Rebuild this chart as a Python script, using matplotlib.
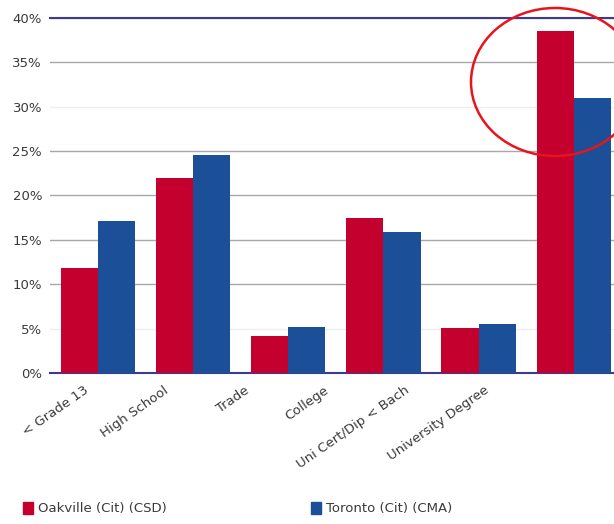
import matplotlib.pyplot as plt
import numpy as np
from matplotlib.patches import Ellipse

# 学歴カテゴリ
categories = ['< Grade 13', 'High School', 'Trade', 'College',
              'Uni Cert/Dip < Bach', 'University Degree']

# 割合(%)
oakville = [11.8, 22.0, 4.2, 17.5, 5.1, 38.5]
toronto = [17.1, 24.6, 5.2, 15.9, 5.5, 31.0]

series_names = ['Oakville (Cit) (CSD)', 'Toronto (Cit) (CMA)']
yticks = [0, 5, 10, 15, 20, 25, 30, 35, 40]

red = '#c4002f'
blue = '#1b4f98'
text_color = '#3a3a3a'

fig = plt.figure(figsize=(6.14, 5.24), dpi=100)
ax = fig.add_axes([0.082, 0.288, 0.93, 0.678])

x = np.arange(len(categories))
w = 0.39
ax.bar(x - w / 2, oakville, w, color=red, zorder=3)
ax.bar(x + w / 2, toronto, w, color=blue, zorder=3)

ax.set_xlim(-0.5, len(categories) - 0.5)
ax.set_ylim(0, 40)
ax.set_yticks(yticks)
ax.set_yticklabels(['{}%'.format(v) for v in yticks], fontsize=9.5, color=text_color)
ax.yaxis.grid(True, color='#a8a8a8', linewidth=1.0, zorder=0)
# 薄い補助線
for i, g in enumerate(ax.get_ygridlines()):
    if yticks[i] in (5, 30):
        g.set_color('#eeeeee')
ax.tick_params(axis='both', length=0, pad=6)

# カテゴリ名(斜め)
ax.set_xticks([])
for i, name in enumerate(categories):
    ax.text(i * 0.842 - 0.15, -1.2, name, rotation=35, ha='right', va='top',
            rotation_mode='anchor', fontsize=9.5, color=text_color)

for s in ['left', 'right']:
    ax.spines[s].set_visible(False)
ax.spines['bottom'].set_color('#3b3b8f')
ax.spines['bottom'].set_linewidth(1.5)
ax.spines['top'].set_color('#3b3b8f')
ax.spines['top'].set_linewidth(1.5)

# 凡例
fig.patches.append(plt.Rectangle((0.037, 0.019), 0.016, 0.023, color=red,
                                 transform=fig.transFigure, figure=fig))
fig.text(0.062, 0.030, series_names[0], fontsize=9.5, color=text_color, va='center')
fig.patches.append(plt.Rectangle((0.506, 0.019), 0.016, 0.023, color=blue,
                                 transform=fig.transFigure, figure=fig))
fig.text(0.531, 0.030, series_names[1], fontsize=9.5, color=text_color, va='center')

# 強調の赤丸
ell = Ellipse((555 / 614, 1 - 82 / 524), 168 / 614, 148 / 524,
              transform=fig.transFigure, fill=False, edgecolor='#e8141c',
              linewidth=1.8, zorder=10)
fig.patches.append(ell)

fig.savefig('out.png', dpi=100)
